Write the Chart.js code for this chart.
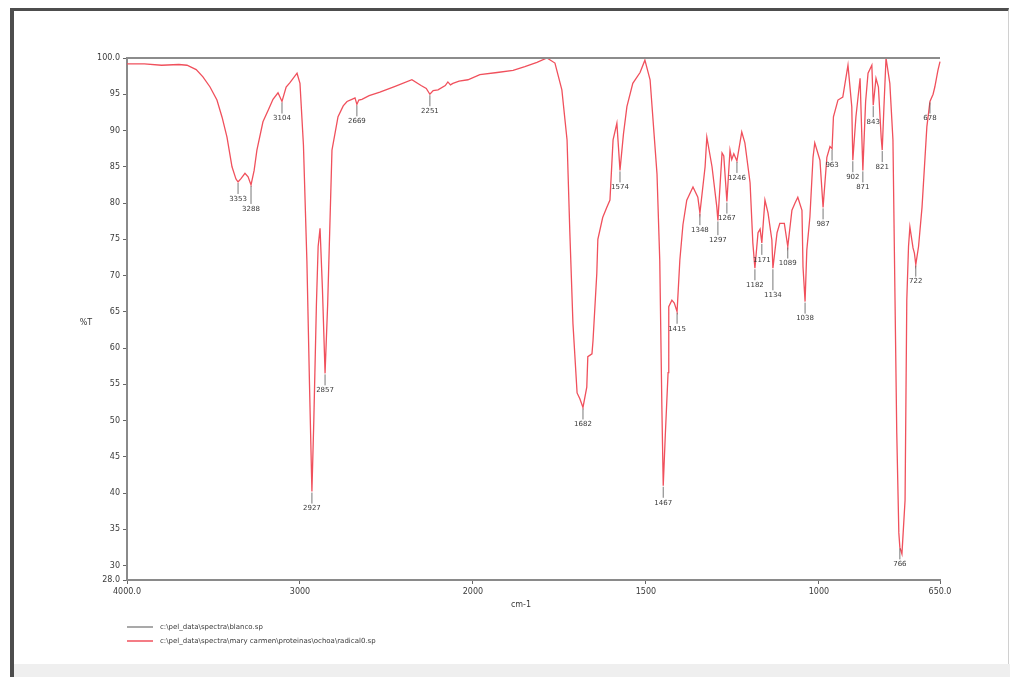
<!DOCTYPE html>
<html>
<head>
<meta charset="utf-8">
<script src="https://cdn.jsdelivr.net/npm/chart.js@4.4.1/dist/chart.umd.min.js"></script>
<style>
	html, body { margin: 0; padding: 0; background: #fff; }
	#frame { position: absolute; left: 10px; top: 8px; width: 994px; height: 669px; border-top: 3px solid #4d4d4d; border-left: 4px solid #4d4d4d; border-right: 1px solid #d0d0d0; }
	#strip { position: absolute; left: 14px; top: 664px; width: 996px; height: 13px; background: #efefef; }
	#graph { position: absolute; left: 0; top: 0; }
</style>
</head>
<body>
<div id="frame"></div>
<div id="strip"></div>
<canvas id="graph" width="1010" height="677"></canvas>
<script>
// Spectrum colors
var sample_color = "#f0505c"; // Red
var blank_color = "#8c8c8c"; // Gray
var text_color = "#3a3a3a";

// Legend labels (file names)
var blank_label = "c:\\pel_data\\spectra\\blanco.sp";
var sample_label = "c:\\pel_data\\spectra\\mary carmen\\proteinas\\ochoa\\radical0.sp";

// Blank: flat 100 %T line
var blank_wn = [4000, 650];
var blank_t = [100, 100];

// Sample spectrum, wavenumber (cm-1) and %T
var sample_wn = [4000, 3900, 3800, 3700, 3653, 3600, 3561, 3520, 3480, 3450, 3422, 3393, 3370, 3358, 3340, 3318, 3300, 3283, 3265, 3249,
	3214, 3180, 3156, 3127, 3104, 3080, 3058, 3017, 3000, 2980, 2960, 2945, 2931, 2920, 2905, 2895, 2884, 2870, 2855, 2840,
	2815, 2780, 2750, 2728, 2700, 2682, 2671, 2660, 2642, 2600, 2538, 2450, 2353, 2300, 2270, 2249, 2230, 2202, 2160, 2145,
	2130, 2116, 2080, 2029, 1980, 1930, 1884, 1850, 1815, 1786, 1763, 1743, 1728, 1720, 1711, 1699, 1691, 1682, 1671, 1668,
	1656, 1653, 1642, 1639, 1625, 1613, 1604, 1595, 1584, 1575, 1565, 1555, 1538, 1517, 1503, 1488, 1468, 1460, 1454, 1450,
	1444, 1436, 1434, 1425, 1418, 1410, 1402, 1393, 1382, 1364, 1350, 1344, 1329, 1324, 1309, 1295, 1292, 1280, 1275, 1266,
	1257, 1252, 1246, 1237, 1223, 1214, 1199, 1191, 1185, 1176, 1170, 1165, 1156, 1147, 1136, 1133, 1121, 1113, 1100, 1090,
	1078, 1069, 1061, 1049, 1046, 1040, 1035, 1026, 1017, 1012, 997, 988, 977, 968, 962, 958, 945, 931, 916, 905,
	902, 893, 881, 873, 865, 858, 847, 843, 835, 828, 820, 817, 812, 806, 795, 786, 780, 775, 769, 766,
	760, 751, 746, 741, 737, 728, 724, 720, 712, 702, 688, 679, 670, 665, 656, 650];
var sample_t = [99.2, 99.2, 99.0, 99.1, 99.0, 98.4, 97.4, 96.0, 94.2, 91.8, 89.1, 85.0, 83.3, 82.9, 83.4, 84.1, 83.6, 82.5, 84.5, 87.3,
	91.2, 93.0, 94.3, 95.2, 94.0, 96.0, 96.6, 97.9, 96.5, 88, 72, 55, 40.2, 50, 66, 74, 76.5, 68, 56.5, 66,
	87.3, 91.9, 93.4, 94.0, 94.3, 94.5, 93.6, 94.2, 94.3, 94.8, 95.3, 96.1, 97.0, 96.2, 95.8, 95.0, 95.5, 95.6, 96.2, 96.7,
	96.3, 96.5, 96.8, 97.0, 97.7, 98.0, 98.3, 98.8, 99.4, 100, 99.3, 95.6, 88.7, 76, 63.4, 53.8, 53.0, 51.8, 54.6, 58.8,
	59.2, 61, 70.3, 75, 78, 79.4, 80.4, 88.7, 91, 84.5, 89.5, 93.3, 96.5, 98, 99.7, 97, 84, 72, 52, 41,
	48, 56.6, 65.7, 66.6, 66.2, 65.0, 72.1, 77, 80.4, 82.2, 80.8, 78.6, 85, 89.1, 85, 79.4, 77.6, 86.9, 86.5, 80.2,
	87.3, 86, 86.8, 85.8, 89.8, 88.3, 82.8, 74.5, 71, 75.9, 76.4, 74.5, 80.4, 78.6, 74.9, 71, 75.9, 77.2, 77.2, 74,
	79, 80, 80.8, 79, 71.2, 66.4, 73.5, 78.1, 86.3, 88.3, 85.9, 79.4, 86.3, 87.8, 87.5, 91.9, 94.2, 94.6, 99, 93.3,
	85.9, 91.9, 97.2, 84.5, 94, 97.9, 99, 93.5, 97.2, 96, 89, 87.3, 93.3, 100, 96.5, 88.7, 66.6, 48.3, 34.5, 32.5,
	31.6, 39, 66.6, 74, 76.7, 73.8, 73.1, 71.5, 74, 79.4, 90.5, 94, 95, 96, 98.3, 99.5];

// Peak labels: text, wavenumber where it sits, %T of the peak
var peak_text = ["3353", "3288", "3104", "2927", "2857", "2669", "2251", "1682", "1574", "1467", "1415", "1348", "1297", "1267", "1246",
	"1182", "1171", "1134", "1089", "1038", "987", "963", "902", "871", "843", "821", "766", "722", "678"];
var peak_wn = [3358, 3283, 3104, 2931, 2855, 2671, 2249, 1682, 1575, 1450, 1410, 1344, 1292, 1266, 1237,
	1185, 1165, 1133, 1090, 1040, 988, 962, 902, 873, 843, 817, 766, 720, 679];
var peak_t = [82.9, 82.5, 94.0, 40.2, 56.5, 93.6, 95.0, 51.8, 84.5, 41, 65.0, 78.6, 77.6, 80.2, 85.8,
	71, 74.5, 71, 74, 66.4, 79.4, 87.5, 85.9, 84.5, 93.5, 87.3, 32.5, 71.5, 94];

// Axis ticks
var x_ticks = [4000, 3000, 2000, 1500, 1000, 650];
var x_tick_labels = ["4000.0", "3000", "2000", "1500", "1000", "650.0"];
var y_ticks = [28, 30, 35, 40, 45, 50, 55, 60, 65, 70, 75, 80, 85, 90, 95, 100];
var y_tick_labels = ["28.0", "30", "35", "40", "45", "50", "55", "60", "65", "70", "75", "80", "85", "90", "95", "100.0"];

// The instrument doubles the scale below 2000 cm-1,
// so plot against a "position" instead of the raw wavenumber
function toPos(wn) {
	if (wn >= 2000) return 4000 - wn;
	return 2000 + 2 * (2000 - wn);
}

function points(wn, t) {
	var out = [];
	for (var i = 0; i < wn.length; i++) out.push({ x: toPos(wn[i]), y: t[i] });
	return out;
}

var small_font = { family: "DejaVu Sans", size: 8 };

// Extra drawing: peak labels, axis titles and the stacked legend
var extras = {
	id: "extras",
	afterDatasetsDraw: function(chart) {
		var ctx = chart.ctx;
		var xs = chart.scales.x;
		var ys = chart.scales.y;
		ctx.save();
		ctx.font = "7px DejaVu Sans";
		ctx.fillStyle = text_color;
		ctx.strokeStyle = "#555";
		ctx.lineWidth = 0.8;
		ctx.textAlign = "center";
		ctx.textBaseline = "middle";
		var placed = [];
		for (var i = 0; i < peak_text.length; i++) {
			var px = xs.getPixelForValue(toPos(peak_wn[i]));
			var py = ys.getPixelForValue(peak_t[i]);
			var ty = py + 17;
			// Push a label down while it runs into one already drawn
			var moved = true;
			while (moved) {
				moved = false;
				for (var k = 0; k < placed.length; k++) {
					if (Math.abs(px - placed[k][0]) < 20 && Math.abs(ty - placed[k][1]) < 9) {
						ty = placed[k][1] + 10;
						moved = true;
					}
				}
			}
			ctx.beginPath();
			ctx.moveTo(px, py + 1);
			ctx.lineTo(px, ty - 5);
			ctx.stroke();
			ctx.fillText(peak_text[i], px, ty);
			placed.push([px, ty]);
		}

		// Axis titles
		ctx.font = "8px DejaVu Sans";
		ctx.fillText("%T", 86, 323);
		ctx.fillText("cm-1", 521, 605);

		// Legend
		var sets = chart.data.datasets;
		ctx.textAlign = "left";
		ctx.font = "7px DejaVu Sans";
		for (var j = 0; j < sets.length; j++) {
			var ly = 627 + j * 14;
			ctx.strokeStyle = sets[j].borderColor;
			ctx.lineWidth = 1.5;
			ctx.beginPath();
			ctx.moveTo(127, ly);
			ctx.lineTo(153, ly);
			ctx.stroke();
			ctx.fillText(sets[j].label, 160, ly);
		}
		ctx.restore();
	}
};

// Create graph
var canvas = document.getElementById("graph").getContext("2d");
var graph = new Chart(canvas, {
	type: "line",
	data: {
		datasets: [
			{
				label: blank_label,
				data: points(blank_wn, blank_t),
				borderColor: blank_color,
				borderWidth: 2,
				pointRadius: 0,
				clip: 4
			},
			{
				label: sample_label,
				data: points(sample_wn, sample_t),
				borderColor: sample_color,
				borderWidth: 1.3,
				pointRadius: 0,
				tension: 0,
				clip: 4
			}
		]
	},
	options: {
		responsive: false,
		animation: false,
		layout: {
			padding: { left: 87, right: 70, top: 58, bottom: 67 }
		},
		plugins: {
			legend: { display: false },
			tooltip: { enabled: false }
		},
		scales: {
			x: {
				type: "linear",
				min: 0,
				max: toPos(650),
				afterBuildTicks: function(scale) {
					scale.ticks = x_ticks.map(function(w) { return { value: toPos(w) }; });
				},
				afterFit: function(scale) { scale.height = 30; },
				ticks: {
					autoSkip: false,
					maxRotation: 0,
					padding: 3,
					color: text_color,
					font: small_font,
					callback: function(value, index) { return x_tick_labels[index]; }
				},
				grid: { drawOnChartArea: false, tickLength: 4, color: "#666" },
				border: { color: "#8a8a8a", width: 2 }
			},
			y: {
				min: 28,
				max: 100,
				afterBuildTicks: function(scale) {
					scale.ticks = y_ticks.map(function(v) { return { value: v }; });
				},
				afterFit: function(scale) { scale.width = 40; },
				ticks: {
					autoSkip: false,
					padding: 3,
					color: text_color,
					font: small_font,
					callback: function(value, index) { return y_tick_labels[index]; }
				},
				grid: { drawOnChartArea: false, tickLength: 4, color: "#666" },
				border: { color: "#8a8a8a", width: 2 }
			}
		}
	},
	plugins: [extras]
});
</script>
</body>
</html>
